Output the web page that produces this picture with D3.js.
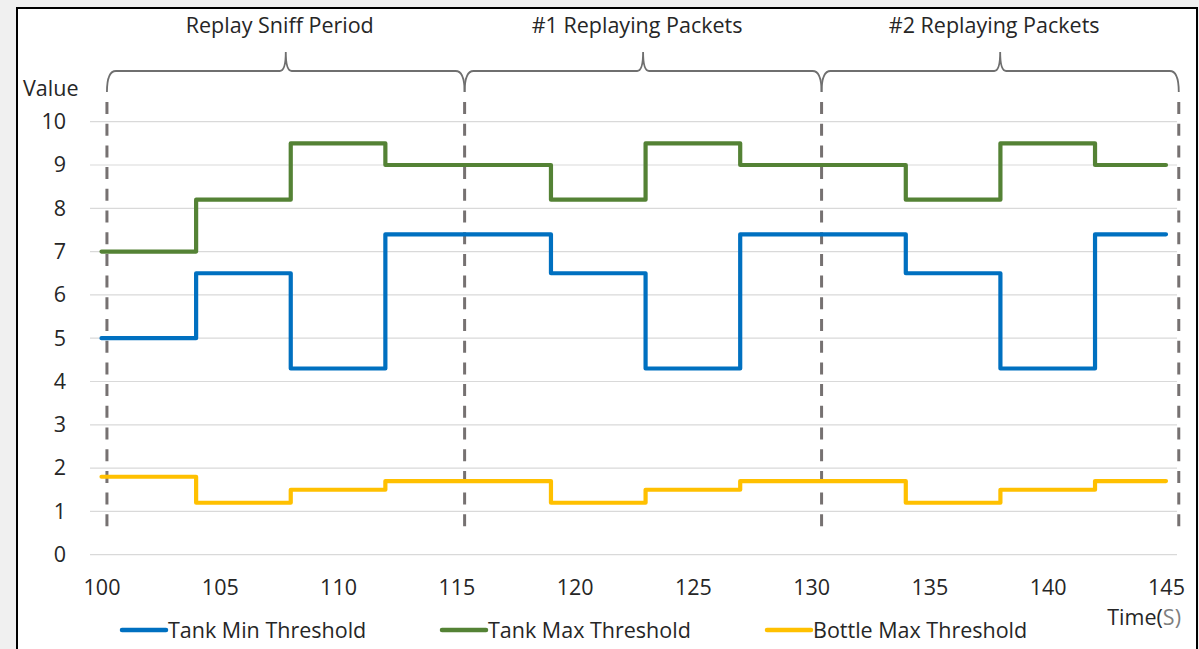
<!DOCTYPE html>
<html>
<head>
<meta charset="utf-8">
<script src="https://cdn.jsdelivr.net/npm/d3@7"></script>
<style>
  html, body { margin: 0; padding: 0; background: #f0f0f0; }
  svg { display: block; }
  text { font-family: "Open Sans", "DejaVu Sans", sans-serif; fill: #262626; }
</style>
</head>
<body>
<svg id="chart" width="1199" height="649"></svg>
<script>
// ---------- data ----------
const times = [100, 104, 108, 112, 119, 123, 127, 134, 138, 142, 145];
const tankMin = [5, 6.5, 4.3, 7.4, 6.5, 4.3, 7.4, 6.5, 4.3, 7.4, 7.4];
const tankMax = [7, 8.2, 9.5, 9, 8.2, 9.5, 9, 8.2, 9.5, 9, 9];
const bottleMax = [1.8, 1.2, 1.5, 1.7, 1.2, 1.5, 1.7, 1.2, 1.5, 1.7, 1.7];
const seriesNames = ["Tank Min Threshold", "Tank Max Threshold", "Bottle Max Threshold"];
const seriesColors = ["#0070C0", "#548235", "#FFC000"];
const yTicks = [0, 1, 2, 3, 4, 5, 6, 7, 8, 9, 10];
const xTicks = [100, 105, 110, 115, 120, 125, 130, 135, 140, 145];
const phaseBounds = [100.23, 115.35, 130.44, 145.54];
const phaseLabels = ["Replay Sniff Period", "#1 Replaying Packets", "#2 Replaying Packets"];

// ---------- setup ----------
const FS = "21.5px";
const svg = d3.select("#chart");
svg.append("rect").attr("x", 17).attr("y", 8).attr("width", 1180).attr("height", 660)
  .attr("fill", "#ffffff").attr("stroke", "#000000").attr("stroke-width", 2);

const x = d3.scaleLinear().domain([100, 145]).range([101.5, 1166]);
const y = d3.scaleLinear().domain([0, 10]).range([554.7, 121.7]);

// gridlines
svg.append("g").selectAll("line").data(yTicks).join("line")
  .attr("x1", 90).attr("x2", 1177)
  .attr("y1", d => y(d)).attr("y2", d => y(d))
  .attr("stroke", "#d9d9d9").attr("stroke-width", 1.2);

// y axis
const yAxis = svg.append("g").attr("transform", "translate(66,0)")
  .call(d3.axisLeft(y).tickValues(yTicks).tickSize(0).tickPadding(0));
yAxis.select(".domain").remove();
yAxis.selectAll("text").style("font-size", FS).attr("fill", "#262626")
  .style("font-family", '"Open Sans", sans-serif');

// x axis
const xAxis = svg.append("g").attr("transform", "translate(0,555)")
  .call(d3.axisBottom(x).tickValues(xTicks).tickSize(0).tickPadding(25));
xAxis.select(".domain").remove();
xAxis.selectAll("text").style("font-size", FS).attr("fill", "#262626")
  .style("font-family", '"Open Sans", sans-serif');

// axis titles
svg.append("text").attr("x", 23).attr("y", 96).style("font-size", FS).text("Value");
const tt = svg.append("text").attr("x", 1181).attr("y", 625).attr("text-anchor", "end")
  .style("font-size", FS);
tt.append("tspan").text("Time(");
tt.append("tspan").attr("fill", "#7f7f7f").style("fill", "#7f7f7f").text("S)");

// phase dashed lines
svg.append("g").selectAll("line").data(phaseBounds).join("line")
  .attr("x1", d => x(d)).attr("x2", d => x(d))
  .attr("y1", 102).attr("y2", 531)
  .attr("stroke", "#767171").attr("stroke-width", 3)
  .attr("stroke-dasharray", "12,9.7");

// braces
const braceTop = 71, braceEnd = 92, braceTip = 52;
const phases = phaseLabels.map((lab, i) => ({ lab, a: x(phaseBounds[i]), b: x(phaseBounds[i + 1]) }));
svg.append("g").selectAll("path").data(phases).join("path")
  .attr("d", p => {
    const c = (p.a + p.b) / 2;
    return `M${p.a},${braceEnd} Q${p.a},${braceTop} ${p.a + 9},${braceTop} L${c - 6},${braceTop} ` +
      `Q${c},${braceTop} ${c},${braceTip} Q${c},${braceTop} ${c + 6},${braceTop} ` +
      `L${p.b - 9},${braceTop} Q${p.b},${braceTop} ${p.b},${braceEnd}`;
  })
  .attr("fill", "none").attr("stroke", "#6f6f6f").attr("stroke-width", 1.8);

svg.append("g").selectAll("text").data(phases).join("text")
  .attr("x", p => (p.a + p.b) / 2 - 6).attr("y", 33)
  .attr("text-anchor", "middle").style("font-size", FS)
  .text(p => p.lab);

// series
const series = [tankMin, tankMax, bottleMax];
const line = d3.line().x(d => x(d.t)).y(d => y(d.v)).curve(d3.curveStepAfter);
svg.append("g").selectAll("path").data(series).join("path")
  .attr("d", vals => line(times.map((t, i) => ({ t, v: vals[i] }))))
  .attr("fill", "none")
  .attr("stroke", (d, i) => seriesColors[i])
  .attr("stroke-width", 4.2)
  .attr("stroke-linejoin", "round")
  .attr("stroke-linecap", "round");

// legend
const legendX = [122, 442, 767];
const lg = svg.append("g").selectAll("g").data(seriesNames).join("g")
  .attr("transform", (d, i) => `translate(${legendX[i]},630)`);
lg.append("line").attr("x1", 0).attr("x2", 44).attr("y1", 0).attr("y2", 0)
  .attr("stroke", (d, i) => seriesColors[i]).attr("stroke-width", 4.5).attr("stroke-linecap", "round");
lg.append("text").attr("x", 46).attr("y", 8).style("font-size", FS).text(d => d);
</script>
</body>
</html>
